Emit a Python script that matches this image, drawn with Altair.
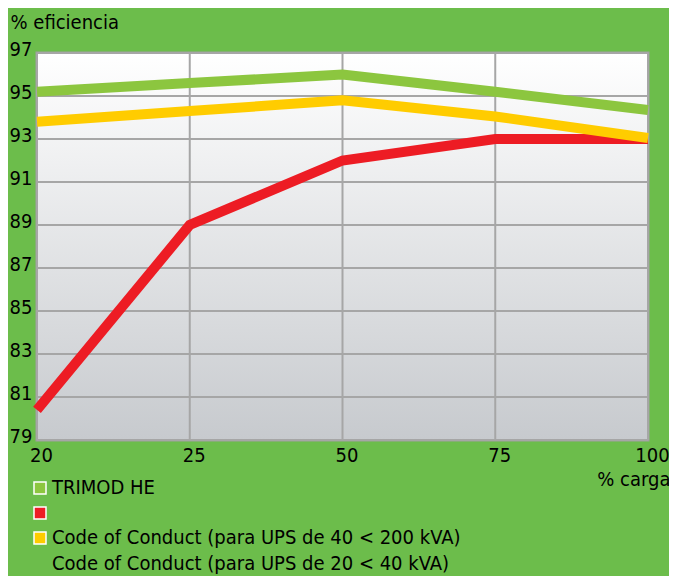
import altair as alt
import pandas as pd

# ---- data ----
carga = ["20", "25", "50", "75", "100"]
trimod_he = [95.2, 95.6, 96.0, 95.2, 94.35]
coc_20_40 = [80.4, 89.0, 92.0, 93.0, 93.0]
coc_40_200 = [93.8, 94.3, 94.8, 94.05, 93.05]
series_names = [
    "TRIMOD HE",
    "Code of Conduct (para UPS de 20 < 40 kVA)",
    "Code of Conduct (para UPS de 40 < 200 kVA)",
]
series_colors = ["#8cc63f", "#ed1c24", "#ffcc00"]
y_ticks = [79, 81, 83, 85, 87, 89, 91, 93, 95, 97]
extra_legend_line = [series_names[1]]

FONT = "DejaVu Sans Condensed, DejaVu Sans, Liberation Sans"
GRID = "#a6a6a6"

rows = []
for name, vals in zip(series_names, [trimod_he, coc_20_40, coc_40_200]):
    for c, v in zip(carga, vals):
        rows.append({"carga": c, "ef": v, "serie": name})
df = pd.DataFrame(rows)

x_enc = alt.X(
    "carga:O",
    sort=carga,
    scale=alt.Scale(type="point", padding=0),
    axis=alt.Axis(
        title="% carga",
        titleFont=FONT, titleFontSize=20, titleFontWeight="normal", titleColor="black",
        titleAnchor="end", titleAlign="right", titleBaseline="alphabetic",
        titleX=633, titleY=45,
        labelFont=FONT, labelFontSize=20, labelColor="black", labelAngle=0,
        labelAlign="center", labelPadding=5, labelOffset=4,
        ticks=False, domain=False, grid=False,
    ),
)
y_enc = alt.Y(
    "ef:Q",
    scale=alt.Scale(domain=[79, 97], nice=False, zero=False),
    axis=alt.Axis(
        values=y_ticks,
        title="% eficiencia",
        titleFont=FONT, titleFontSize=20, titleFontWeight="normal", titleColor="black",
        titleAngle=0, titleAlign="left", titleBaseline="alphabetic",
        titleX=-27, titleY=-25,
        labelFont=FONT, labelFontSize=20, labelColor="black",
        labelBaseline="middle", labelOffset=-4, labelPadding=5,
        labelOverlap=False, labelFlush=False,
        ticks=False, domain=False, grid=False,
    ),
)

plot_bg = (
    alt.Chart(pd.DataFrame({"a": [0]}))
    .mark_rect(
        color=alt.LinearGradient(
            gradient="linear", x1=0, y1=0, x2=0, y2=1,
            stops=[alt.GradientStop(color="#ffffff", offset=0),
                   alt.GradientStop(color="#c7cace", offset=1)],
        )
    )
    .encode(x=alt.value(0), x2=alt.value(611), y=alt.value(0), y2=alt.value(387))
)

h_grid = (
    alt.Chart(pd.DataFrame({"ef": y_ticks}))
    .mark_rule(color=GRID, strokeWidth=2)
    .encode(y=y_enc)
)
v_grid = (
    alt.Chart(pd.DataFrame({"carga": carga}))
    .mark_rule(color=GRID, strokeWidth=2)
    .encode(x=x_enc)
)

def line_layer(i):
    return (
        alt.Chart(df)
        .transform_filter(alt.datum.serie == series_names[i])
        .mark_line(strokeWidth=10, strokeCap="butt", strokeJoin="miter",
                   color=series_colors[i])
        .encode(x=x_enc, y=y_enc)
    )

red_line = line_layer(1)
yellow_line = line_layer(2)
green_line = line_layer(0)

legend_layer = (
    alt.Chart(df)
    .mark_square(opacity=0, size=1)
    .encode(
        x=x_enc, y=y_enc,
        fill=alt.Fill(
            "serie:N", scale=alt.Scale(domain=series_names, range=series_colors),
            legend=alt.Legend(
                title=None, orient="none", legendX=-7, legendY=425,
                symbolType="square", symbolSize=144, symbolOpacity=1,
                symbolStrokeColor="white", symbolStrokeWidth=1.5,
                labelFont=FONT, labelFontSize=20, labelColor="black",
                labelOffset=2, rowPadding=5, padding=0, labelLimit=600,
                labelExpr="datum.label == '%s' ? '' : datum.label" % series_names[1],
            ),
        ),
    )
)

extra_text = (
    alt.Chart(pd.DataFrame({"t": extra_legend_line}))
    .mark_text(align="left", baseline="alphabetic", font=FONT, fontSize=20, color="black")
    .encode(x=alt.value(15), y=alt.value(517), text="t:N")
)

chart = (
    alt.layer(plot_bg, h_grid, v_grid, red_line, yellow_line, green_line,
              legend_layer, extra_text)
    .properties(
        width=611, height=387,
        autosize=alt.AutoSizeParams(type="none"),
        padding={"left": 29, "top": 45, "right": 21, "bottom": 136},
        background="#6cbd4b",
    )
    .configure_view(stroke="#a0a0a0", strokeWidth=3)
)

chart.save("out.html", embed_options={"renderer": "svg", "actions": False})
